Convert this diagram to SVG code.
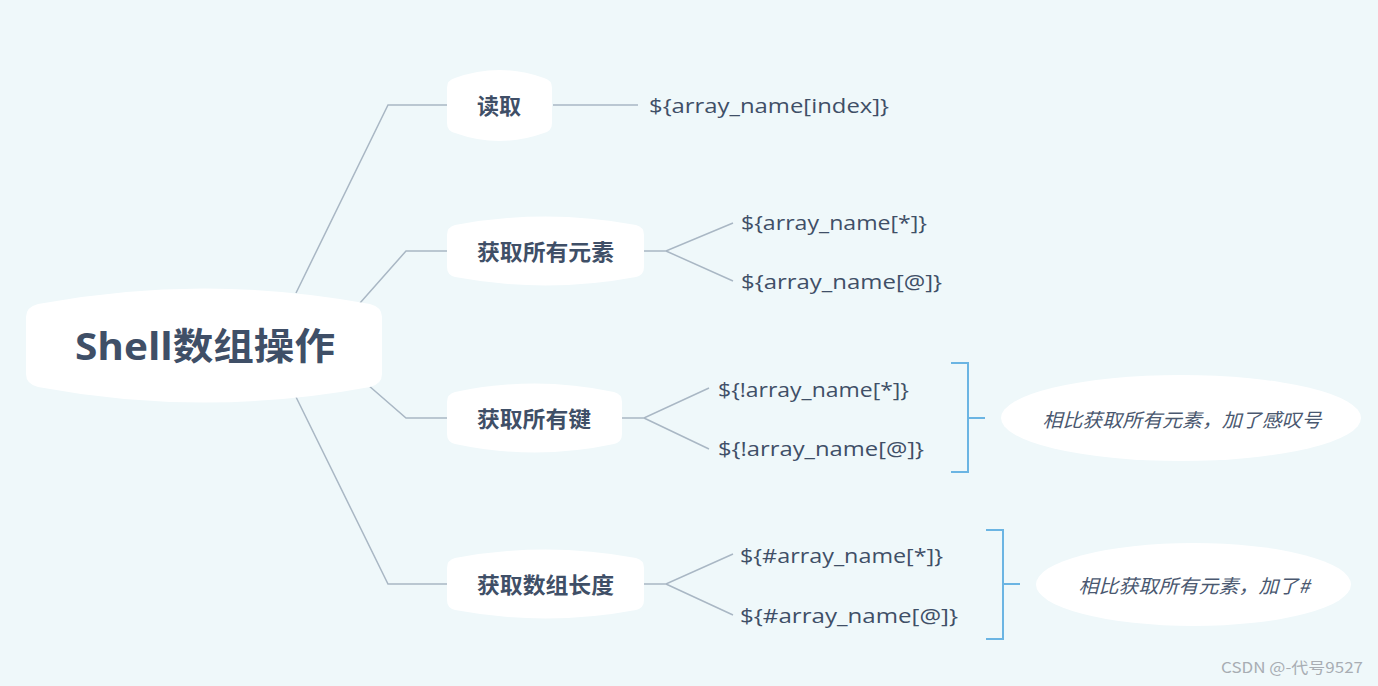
<svg xmlns="http://www.w3.org/2000/svg" width="1378" height="686" viewBox="0 0 1378 686">
<style>
.node{fill:#ffffff}
.lbl{font-family:"Open Sans","Noto Sans CJK SC",sans-serif;font-weight:700;fill:#3f4f67;dominant-baseline:central}
.code{font-family:"Open Sans","Noto Sans CJK SC",sans-serif;font-size:20px;fill:#3f4f67;dominant-baseline:central}
.note{font-family:"Noto Sans CJK SC",sans-serif;font-size:19px;font-style:italic;fill:#4a5870;dominant-baseline:central;text-anchor:middle}
.ln{fill:none;stroke:#a9b7c4;stroke-width:1.5}
.br{fill:none;stroke:#6bb5e3;stroke-width:2}
</style>
<rect x="0" y="0" width="1378" height="686" fill="#eff8fa"/>
<g id="connectors">
<path class="ln" d="M296 293 L388 105 L447 105"/>
<path class="ln" d="M360 303 L406 251 L447 251"/>
<path class="ln" d="M368 385 L406 418 L447 418"/>
<path class="ln" d="M296 397 L388 584 L447 584"/>
<path class="ln" d="M553 105 L638 105"/>
<path class="ln" d="M644 251 L666 251 L733 223 M666 251 L733 281"/>
<path class="ln" d="M622 418 L644 418 L709 388 M644 418 L709 449"/>
<path class="ln" d="M644 584 L666 584 L733 554 M666 584 L733 615"/>
<path class="br" d="M951 363 L968 363 L968 472 L951 472 M968 418 L985 418"/>
<path class="br" d="M986 530 L1003 530 L1003 639 L986 639 M1003 584 L1020 584"/>
</g>
<g id="root">
<path class="node" d="M26 317 Q26 307 38 304 Q204 273 370 304 Q382 307 382 317 L382 374 Q382 384 370 387 Q204 418 38 387 Q26 384 26 374 Z"/>
<text class="lbl" x="75" y="345" font-size="37" textLength="260" lengthAdjust="spacingAndGlyphs">Shell数组操作</text>
</g>
<g id="n-read">
<path class="node" d="M447 88 Q447 80 455 78 Q499.5 62 544 78 Q552 80 552 88 L552 123 Q552 131 544 133 Q499.5 149 455 133 Q447 131 447 123 Z"/>
<text class="lbl" x="477" y="105" font-size="22">读取</text>
</g>
<g id="n-all">
<path class="node" d="M447 235 Q447 227 455 225 Q545.5 208 636 225 Q644 227 644 235 L644 267 Q644 275 636 277 Q545.5 294 455 277 Q447 275 447 267 Z"/>
<text class="lbl" x="477" y="251" font-size="22" textLength="137" lengthAdjust="spacingAndGlyphs">获取所有元素</text>
</g>
<g id="n-keys">
<path class="node" d="M447 402 Q447 394 455 392 Q534.5 375 614 392 Q622 394 622 402 L622 434 Q622 442 614 444 Q534.5 461 455 444 Q447 442 447 434 Z"/>
<text class="lbl" x="477" y="418" font-size="22" textLength="114" lengthAdjust="spacingAndGlyphs">获取所有键</text>
</g>
<g id="n-len">
<path class="node" d="M447 568 Q447 560 455 558 Q545.5 541 636 558 Q644 560 644 568 L644 600 Q644 608 636 610 Q545.5 627 455 610 Q447 608 447 600 Z"/>
<text class="lbl" x="477" y="584" font-size="22" textLength="137" lengthAdjust="spacingAndGlyphs">获取数组长度</text>
</g>
<g id="t-read"><text class="code" x="649" y="105" textLength="240" lengthAdjust="spacingAndGlyphs">${array_name[index]}</text></g>
<g id="t-all1"><text class="code" x="741" y="222" textLength="186" lengthAdjust="spacingAndGlyphs">${array_name[*]}</text></g>
<g id="t-all2"><text class="code" x="741" y="281" textLength="201" lengthAdjust="spacingAndGlyphs">${array_name[@]}</text></g>
<g id="t-keys1"><text class="code" x="718" y="389" textLength="191" lengthAdjust="spacingAndGlyphs">${!array_name[*]}</text></g>
<g id="t-keys2"><text class="code" x="718" y="448" textLength="206" lengthAdjust="spacingAndGlyphs">${!array_name[@]}</text></g>
<g id="t-len1"><text class="code" x="740" y="555" textLength="203" lengthAdjust="spacingAndGlyphs">${#array_name[*]}</text></g>
<g id="t-len2"><text class="code" x="740" y="615" textLength="218" lengthAdjust="spacingAndGlyphs">${#array_name[@]}</text></g>
<g id="note1">
<ellipse class="node" cx="1181" cy="418" rx="180" ry="43"/>
<text class="note" x="1182" y="418" textLength="279" lengthAdjust="spacingAndGlyphs">相比获取所有元素，加了感叹号</text>
</g>
<g id="note2">
<ellipse class="node" cx="1193.5" cy="584.5" rx="157.5" ry="41.5"/>
<text class="note" x="1194" y="584" textLength="231" lengthAdjust="spacingAndGlyphs">相比获取所有元素，加了#</text>
</g>
<text x="1221" y="673" font-family="'Noto Sans CJK SC',sans-serif" font-size="15" fill="#a8adb3" textLength="142" lengthAdjust="spacingAndGlyphs">CSDN @-代号9527</text>
</svg>
